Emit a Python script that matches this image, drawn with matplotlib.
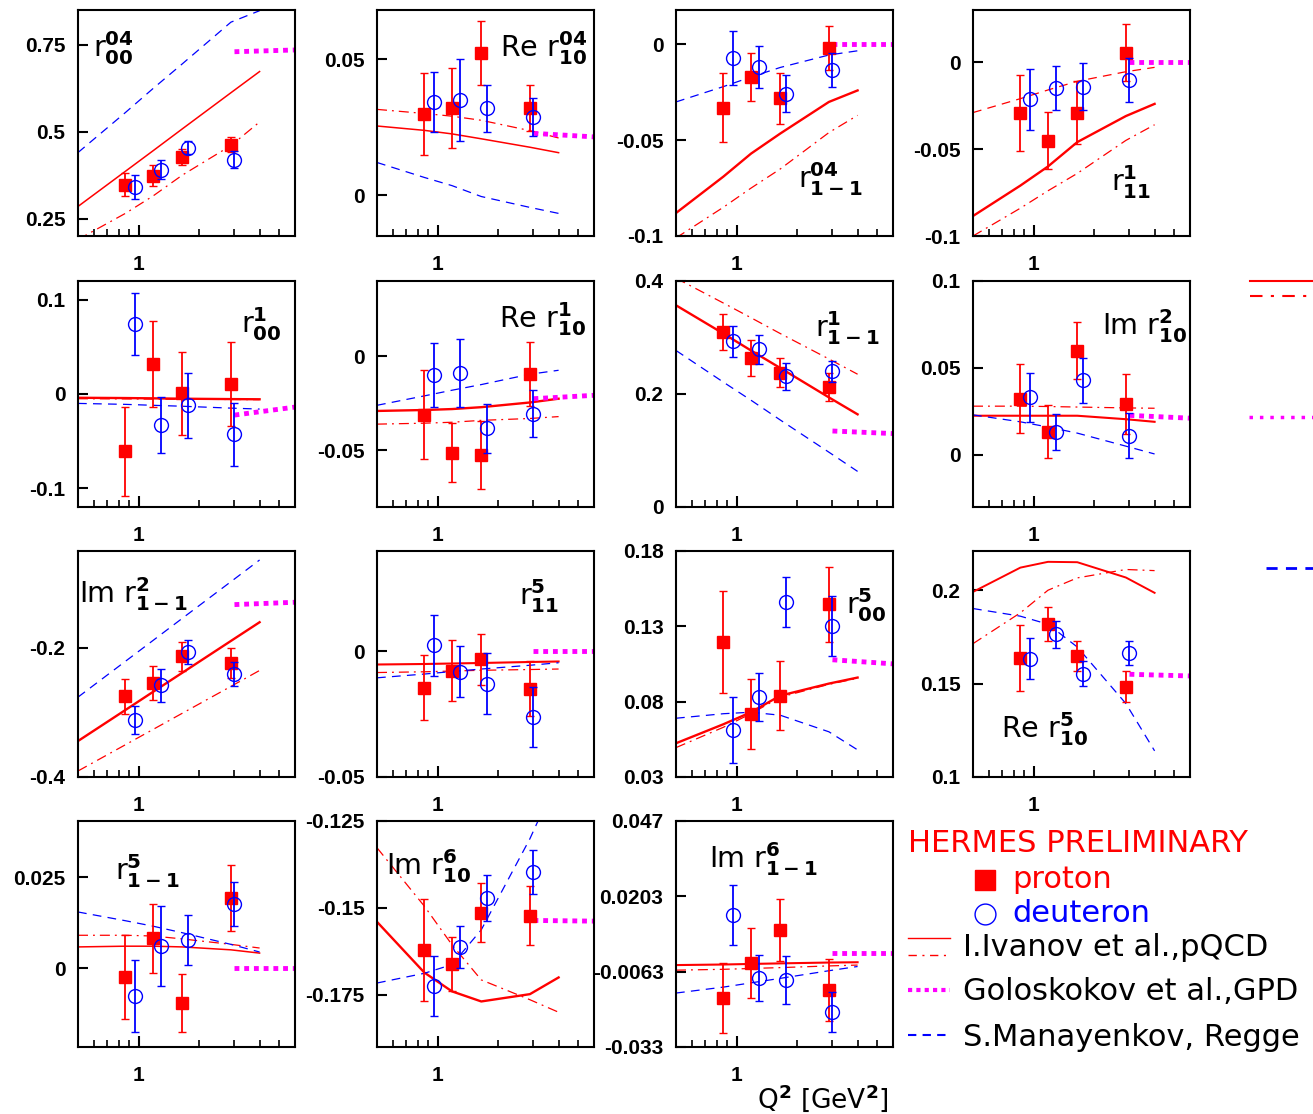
import matplotlib
matplotlib.use("Agg")
import matplotlib.pyplot as plt
from matplotlib.lines import Line2D
from matplotlib.ticker import FixedLocator, FixedFormatter, NullFormatter

# Q2 positions of the measured bins and of the model curves
q2_proton = [0.86, 1.18, 1.65, 2.88]
q2_deuteron = [0.96, 1.29, 1.77, 3.0]
q2_theory = [0.5, 0.86, 1.18, 1.65, 2.88, 4.0]
q2_gpd = [3.0, 6.0]

labels = [
    r"r$^{\bf 04}_{\bf 00}$", r"Re r$^{\bf 04}_{\bf 10}$", r"r$^{\bf 04}_{\bf 1-1}$", r"r$^{\bf 1}_{\bf 11}$",
    r"r$^{\bf 1}_{\bf 00}$", r"Re r$^{\bf 1}_{\bf 10}$", r"r$^{\bf 1}_{\bf 1-1}$", r"Im r$^{\bf 2}_{\bf 10}$",
    r"Im r$^{\bf 2}_{\bf 1-1}$", r"r$^{\bf 5}_{\bf 11}$", r"r$^{\bf 5}_{\bf 00}$", r"Re r$^{\bf 5}_{\bf 10}$",
    r"r$^{\bf 5}_{\bf 1-1}$", r"Im r$^{\bf 6}_{\bf 10}$", r"Im r$^{\bf 6}_{\bf 1-1}$",
]

proton = [
    [0.348, 0.374, 0.427, 0.463],
    [0.0297, 0.0319, 0.0523, 0.0319],
    [-0.0331, -0.0172, -0.0282, -0.0018],
    [-0.0294, -0.0452, -0.029, 0.0055],
    [-0.0608, 0.0317, 0.0007, 0.0103],
    [-0.031, -0.0512, -0.0523, -0.0092],
    [0.31, 0.264, 0.238, 0.212],
    [0.0323, 0.0134, 0.0599, 0.0292],
    [-0.2747, -0.2546, -0.2129, -0.2237],
    [-0.0144, -0.0076, -0.0032, -0.0148],
    [0.1196, 0.0718, 0.084, 0.1447],
    [0.1638, 0.1818, 0.1648, 0.1482],
    [-0.0025, 0.0082, -0.0096, 0.0192],
    [-0.1622, -0.1662, -0.1514, -0.1522],
    [-0.0157, -0.0032, 0.0085, -0.0128],
]
proton_err = [
    [0.034, 0.031, 0.022, 0.022],
    [0.015, 0.0147, 0.0117, 0.0085],
    [0.018, 0.0125, 0.0133, 0.0115],
    [0.0218, 0.0165, 0.018, 0.0165],
    [0.0475, 0.046, 0.0443, 0.0445],
    [0.0237, 0.0157, 0.018, 0.017],
    [0.032, 0.032, 0.025, 0.025],
    [0.02, 0.0155, 0.0163, 0.0173],
    [0.027, 0.026, 0.0225, 0.0232],
    [0.013, 0.012, 0.01, 0.011],
    [0.0336, 0.0233, 0.023, 0.025],
    [0.0177, 0.009, 0.0082, 0.0083],
    [0.0115, 0.0095, 0.008, 0.009],
    [0.0147, 0.0077, 0.0085, 0.0085],
    [0.0125, 0.0125, 0.011, 0.011],
]
deuteron = [
    [0.341, 0.391, 0.454, 0.420],
    [0.0341, 0.0349, 0.0319, 0.0288],
    [-0.007, -0.0117, -0.0256, -0.0134],
    [-0.0213, -0.0147, -0.0141, -0.0102],
    [0.0743, -0.0331, -0.0121, -0.043],
    [-0.0101, -0.0087, -0.0381, -0.0305],
    [0.293, 0.279, 0.231, 0.240],
    [0.033, 0.0131, 0.0428, 0.0111],
    [-0.3113, -0.2582, -0.2067, -0.2402],
    [0.0024, -0.008, -0.0128, -0.026],
    [0.0613, 0.0829, 0.1462, 0.1302],
    [0.1634, 0.1764, 0.1554, 0.1664],
    [-0.0077, 0.006, 0.0077, 0.0176],
    [-0.1724, -0.1613, -0.1471, -0.1397],
    [0.0138, -0.0086, -0.0093, -0.0207],
]
deuteron_err = [
    [0.035, 0.028, 0.019, 0.024],
    [0.011, 0.015, 0.0086, 0.007],
    [0.014, 0.011, 0.0098, 0.009],
    [0.0175, 0.0127, 0.0135, 0.0128],
    [0.0327, 0.0297, 0.0347, 0.0338],
    [0.017, 0.018, 0.013, 0.0124],
    [0.028, 0.026, 0.024, 0.018],
    [0.014, 0.0105, 0.0128, 0.0132],
    [0.022, 0.026, 0.019, 0.019],
    [0.012, 0.01, 0.012, 0.012],
    [0.022, 0.016, 0.0167, 0.02],
    [0.011, 0.0072, 0.0067, 0.0065],
    [0.01, 0.011, 0.007, 0.006],
    [0.0087, 0.006, 0.0067, 0.0064],
    [0.0107, 0.008, 0.0085, 0.007],
]

# model curves
ivanov = [
    [0.285, 0.386, 0.445, 0.508, 0.612, 0.673],
    [0.0254, 0.0238, 0.0225, 0.0207, 0.0176, 0.0156],
    [-0.088, -0.069, -0.057, -0.0465, -0.030, -0.024],
    [-0.0885, -0.071, -0.06, -0.046, -0.031, -0.024],
    [-0.004, -0.0043, -0.0046, -0.005, -0.0054, -0.0056],
    [-0.029, -0.0285, -0.028, -0.027, -0.0245, -0.0225],
    [0.357, 0.307, 0.277, 0.246, 0.194, 0.164],
    [0.0225, 0.0225, 0.0225, 0.0225, 0.0205, 0.019],
    [-0.3443, -0.2963, -0.2682, -0.2386, -0.1893, -0.1603],
    [-0.0052, -0.005, -0.0048, -0.0046, -0.0042, -0.004],
    [0.0524, 0.065, 0.073, 0.084, 0.092, 0.096],
    [0.1991, 0.2121, 0.2152, 0.215, 0.2068, 0.1986],
    [0.0058, 0.006, 0.006, 0.0058, 0.005, 0.0041],
    [-0.154, -0.1686, -0.174, -0.1769, -0.1748, -0.17],
    [-0.004, -0.0038, -0.0036, -0.0034, -0.0031, -0.003],
]
ivanov_alt = [
    [0.19, 0.265, 0.315, 0.375, 0.46, 0.528],
    [0.0315, 0.030, 0.029, 0.0275, 0.0237, 0.021],
    [-0.101, -0.085, -0.075, -0.065, -0.046, -0.037],
    [-0.1, -0.084, -0.074, -0.064, -0.045, -0.036],
    [-0.005, -0.0052, -0.0054, -0.0056, -0.0058, -0.006],
    [-0.036, -0.0355, -0.035, -0.034, -0.033, -0.032],
    [0.405, 0.361, 0.335, 0.307, 0.262, 0.235],
    [0.028, 0.028, 0.0278, 0.0275, 0.027, 0.0268],
    [-0.3907, -0.3501, -0.3264, -0.3013, -0.2597, -0.235],
    [-0.0084, -0.0081, -0.0078, -0.0075, -0.0072, -0.007],
    [0.0495, 0.063, 0.072, 0.083, 0.0915, 0.0955],
    [0.1714, 0.1879, 0.2, 0.2066, 0.2111, 0.2105],
    [0.009, 0.009, 0.0088, 0.008, 0.0065, 0.0055],
    [-0.1327, -0.1495, -0.1606, -0.1707, -0.1764, -0.18],
    [-0.0058, -0.0055, -0.0052, -0.0049, -0.0043, -0.004],
]
regge = [
    [0.44, 0.555, 0.624, 0.695, 0.815, 0.848],
    [0.012, 0.0065, 0.0035, -0.0005, -0.0045, -0.0067],
    [-0.030, -0.022, -0.017, -0.012, -0.0055, -0.0033],
    [-0.029, -0.021, -0.016, -0.011, -0.0055, -0.003],
    [-0.010, -0.011, -0.012, -0.013, -0.015, -0.016],
    [-0.026, -0.021, -0.018, -0.015, -0.0095, -0.0074],
    [0.277, 0.221, 0.189, 0.154, 0.097, 0.063],
    [0.023, 0.019, 0.016, 0.0125, 0.005, 0.0005],
    [-0.2763, -0.2209, -0.1886, -0.1543, -0.0975, -0.0639],
    [-0.0105, -0.009, -0.008, -0.007, -0.0055, -0.0045],
    [0.069, 0.072, 0.073, 0.071, 0.06, 0.048],
    [0.1902, 0.1861, 0.1818, 0.1696, 0.1393, 0.114],
    [0.0154, 0.013, 0.0115, 0.0097, 0.0065, 0.0044],
    [-0.1716, -0.1688, -0.1663, -0.1563, -0.1301, -0.112],
    [-0.0139, -0.0118, -0.0103, -0.0087, -0.006, -0.0045],
]
gpd = [
    [0.73, 0.735], [0.0227, 0.0214], [0.0, 0.0], [0.0, 0.0],
    [-0.0224, -0.0139], [-0.0225, -0.0207], [0.1345, 0.13], [0.0227, 0.0211],
    [-0.133, -0.1294], [0.0, 0.0], [0.1078, 0.1051], [0.155, 0.1541],
    [0.0, 0.0], [-0.1536, -0.1538], [0.0003, 0.0003],
]

ylims = [
    (0.2, 0.85), (-0.015, 0.068), (-0.1, 0.018), (-0.1, 0.03),
    (-0.12, 0.12), (-0.08, 0.04), (0, 0.4), (-0.03, 0.1),
    (-0.4, -0.05), (-0.05, 0.04), (0.03, 0.18), (0.1, 0.221),
    (-0.0217, 0.0404), (-0.19, -0.125), (-0.033, 0.047),
]
yticks = [
    [0.25, 0.5, 0.75], [0, 0.05], [-0.1, -0.05, 0], [-0.1, -0.05, 0],
    [-0.1, 0, 0.1], [-0.05, 0], [0, 0.2, 0.4], [0, 0.05, 0.1],
    [-0.4, -0.2], [-0.05, 0], [0.03, 0.08, 0.13, 0.18], [0.1, 0.15, 0.2],
    [0, 0.025], [-0.175, -0.15, -0.125], [-0.033, -0.0063, 0.0203, 0.047],
]
ytick_labels = [
    ["0.25", "0.5", "0.75"], ["0", "0.05"], ["-0.1", "-0.05", "0"], ["-0.1", "-0.05", "0"],
    ["-0.1", "0", "0.1"], ["-0.05", "0"], ["0", "0.2", "0.4"], ["0", "0.05", "0.1"],
    ["-0.4", "-0.2"], ["-0.05", "0"], ["0.03", "0.08", "0.13", "0.18"], ["0.1", "0.15", "0.2"],
    ["0", "0.025"], ["-0.175", "-0.15", "-0.125"], ["-0.033", "-0.0063", "0.0203", "0.047"],
]
# label position inside each panel (axes fraction) and alignment
label_pos = [
    (0.07, 0.83, "left"), (0.97, 0.83, "right"), (0.86, 0.25, "right"), (0.82, 0.24, "right"),
    (0.94, 0.81, "right"), (0.965, 0.83, "right"), (0.94, 0.79, "right"), (0.985, 0.80, "right"),
    (0.005, 0.81, "left"), (0.84, 0.80, "right"), (0.97, 0.76, "right"), (0.13, 0.21, "left"),
    (0.17, 0.78, "left"), (0.04, 0.80, "left"), (0.15, 0.83, "left"),
]
regge_color = ["blue", "blue", "blue", "red"] + ["blue"] * 11
ivanov_lw = [1.1, 1.1, 1.7, 1.7, 1.7, 1.7, 1.7, 1.5, 1.7, 1.5, 1.7, 1.4, 1.1, 1.7, 1.5]

W, H = 1313, 1114
fig = plt.figure(figsize=(W / 100, H / 100), dpi=100)

col_left = [78, 377, 676, 973]
row_top = [10, 281, 551, 821]
pw, ph = 217, 226

tickfont = {"family": "Liberation Sans", "weight": "bold", "size": 15}

for i in range(15):
    r, c = divmod(i, 4)
    ax = fig.add_axes([col_left[c] / W, 1 - (row_top[r] + ph) / H, pw / W, ph / H])
    ax.set_xscale("log")
    ax.set_xlim(0.5, 6)
    ax.set_ylim(*ylims[i])

    ax.plot(q2_theory, ivanov[i], color="red", lw=ivanov_lw[i])
    ax.plot(q2_theory, ivanov_alt[i], color="red", lw=0.9, dashes=(8, 4, 1.5, 4))
    ax.plot(q2_theory, regge[i], color=regge_color[i], lw=0.9, dashes=(7, 5))
    ax.plot(q2_gpd, gpd[i], color="magenta", lw=3.5, dashes=(1, 1))

    ax.errorbar(q2_proton, proton[i], yerr=proton_err[i], fmt="s", color="red",
                ms=9, capsize=3, elinewidth=1.3, capthick=1, zorder=4)
    ax.errorbar(q2_deuteron, deuteron[i], yerr=deuteron_err[i], fmt="o", color="blue",
                mfc="none", ms=10, mew=1, capsize=3, elinewidth=1.3, capthick=1, zorder=5)

    x, y, ha = label_pos[i]
    ax.text(x, y, labels[i], transform=ax.transAxes, ha=ha, va="center",
            fontsize=20.5, family="DejaVu Sans")

    ax.xaxis.set_major_locator(FixedLocator([1]))
    ax.xaxis.set_major_formatter(FixedFormatter(["1"]))
    ax.xaxis.set_minor_locator(FixedLocator([0.6, 0.7, 0.8, 0.9, 2, 3, 4, 5]))
    ax.xaxis.set_minor_formatter(NullFormatter())
    ax.yaxis.set_major_locator(FixedLocator(yticks[i]))
    ax.yaxis.set_major_formatter(FixedFormatter(ytick_labels[i]))
    ax.yaxis.set_minor_locator(FixedLocator([]))
    ax.tick_params(axis="x", which="major", direction="in", length=8, width=1.5, pad=14, top=False)
    ax.tick_params(axis="x", which="minor", direction="in", length=5, width=1.2, top=False)
    ax.tick_params(axis="y", which="major", direction="in", length=7, width=1.5, pad=9, right=False)
    for lab in ax.get_xticklabels() + ax.get_yticklabels():
        lab.set_fontproperties(tickfont)
    for sp in ax.spines.values():
        sp.set_linewidth(1.5)


def fpos(x, y):
    return x / W, 1 - y / H


def fig_line(x0, x1, y, **kw):
    (a, b), (c, d) = fpos(x0, y), fpos(x1, y)
    fig.add_artist(Line2D([a, c], [b, d], transform=fig.transFigure, **kw))


# legend lines cut off at the right edge
fig_line(1250, 1313, 281, color="red", lw=1.5)
fig_line(1250, 1313, 296, color="red", lw=1.5, dashes=(6, 4, 1.5, 4))
fig_line(1249, 1313, 417, color="magenta", lw=2.5, dashes=(1, 2))
fig_line(1266, 1313, 568, color="blue", lw=2, dashes=(4, 3))

# legend block
legfont = {"family": "DejaVu Sans", "size": 22}
fig.text(*fpos(908, 843), "HERMES PRELIMINARY", color="red", va="center", ha="left", **legfont)
fig.add_artist(Line2D([fpos(985, 880)[0]], [fpos(985, 880)[1]], marker="s", ms=14, color="red",
                      transform=fig.transFigure))
fig.text(*fpos(1012, 880), "proton", color="red", va="center", ha="left", **legfont)
fig.add_artist(Line2D([fpos(985, 914)[0]], [fpos(985, 914)[1]], marker="o", ms=15, mfc="none",
                      mec="blue", mew=1, transform=fig.transFigure))
fig.text(*fpos(1012, 913), "deuteron", color="blue", va="center", ha="left", **legfont)

fig_line(908, 950, 938, color="red", lw=1)
fig_line(908, 950, 955, color="red", lw=1, dashes=(6, 4, 1.5, 4))
fig.text(*fpos(963, 947), "I.Ivanov et al.,pQCD", color="black", va="center", ha="left", **legfont)
fig_line(908, 950, 990, color="magenta", lw=3, dashes=(1, 1))
fig.text(*fpos(963, 992), "Goloskokov et al.,GPD", color="black", va="center", ha="left", **legfont)
fig_line(908, 950, 1035, color="blue", lw=1.5, dashes=(4, 3))
fig.text(*fpos(963, 1037), "S.Manayenkov, Regge", color="black", va="center", ha="left", **legfont)

fig.text(*fpos(757, 1098), r"Q$^{\bf 2}$ [GeV$^{\bf 2}$]", color="black", va="center", ha="left",
         family="DejaVu Sans", size=19)

fig.savefig("out.png", dpi=100)
